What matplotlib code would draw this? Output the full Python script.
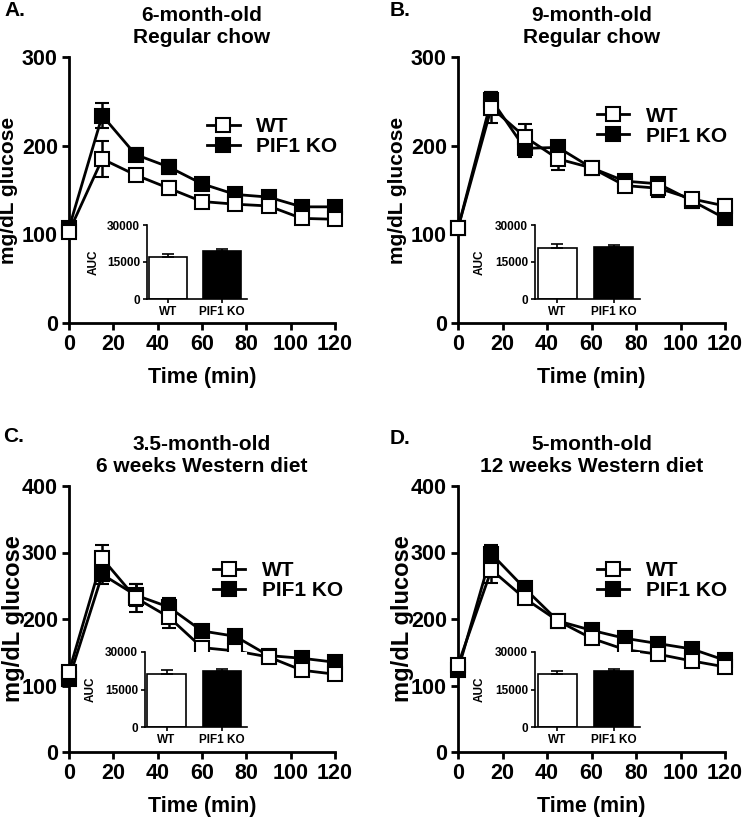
import numpy as np
import matplotlib
matplotlib.use("Agg")
import matplotlib.pyplot as plt
from matplotlib.lines import Line2D
from matplotlib import font_manager

plt.rcParams["font.family"] = ["Liberation Sans", "DejaVu Sans"]
plt.rcParams["font.weight"] = "bold"

# fuente estrecha para los números de los ejes (si existe)
names = {f.name for f in font_manager.fontManager.ttflist}
if "Liberation Sans Narrow" in names:
    tick_font, tick_size = "Liberation Sans Narrow", 17.5
else:
    tick_font, tick_size = "Liberation Sans", 15.5

# tiempos de muestreo (min)
time = [0, 15, 30, 45, 60, 75, 90, 105, 120]

# glucosa (mg/dL) por panel
a_wt = [103, 185, 167, 152, 137, 134, 132, 118, 117]
a_wt_err = [3, 20, 6, 8, 6, 5, 5, 6, 5]
a_ko = [107, 234, 190, 176, 157, 145, 142, 131, 131]
a_ko_err = [5, 14, 7, 8, 6, 4, 4, 4, 4]

b_wt = [107, 243, 210, 185, 175, 155, 152, 140, 132]
b_wt_err = [4, 17, 14, 13, 5, 6, 10, 5, 8]
b_ko = [107, 252, 197, 198, 175, 160, 157, 138, 118]
b_ko_err = [4, 8, 10, 6, 4, 5, 5, 8, 5]

c_wt = [121, 291, 232, 203, 157, 152, 143, 123, 117]
c_wt_err = [6, 20, 21, 16, 8, 10, 6, 6, 5]
c_ko = [110, 267, 236, 218, 182, 174, 145, 141, 135]
c_ko_err = [6, 15, 17, 14, 6, 8, 5, 5, 5]

d_wt = [131, 274, 231, 197, 171, 154, 147, 137, 128]
d_wt_err = [6, 20, 8, 5, 8, 6, 5, 6, 5]
d_ko = [123, 298, 246, 197, 183, 171, 163, 155, 138]
d_ko_err = [6, 13, 6, 5, 5, 5, 5, 5, 5]

# AUC (inset)
auc_groups = ["WT", "PIF1 KO"]
a_auc = [17200, 19600]
a_auc_err = [950, 800]
b_auc = [20850, 21000]
b_auc_err = [1350, 950]
c_auc = [21300, 22300]
c_auc_err = [1350, 1100]
d_auc = [21200, 22300]
d_auc_err = [1350, 1050]

W, H = 743, 818


def box(l, t, r, b):
    # caja en píxeles -> fracción de figura
    return [l / W, 1 - b / H, (r - l) / W, (b - t) / H]


panels = [
    dict(letter="A.", lpos=(4, 11), title="6-month-old\nRegular chow",
         main=(69, 57, 335, 323), inset=(147, 225, 247, 299), ymax=300,
         wt=a_wt, wt_err=a_wt_err, ko=a_ko, ko_err=a_ko_err,
         auc=a_auc, auc_err=a_auc_err, leg=(0.52, 0.70), yfs=15, ylx=-0.19),
    dict(letter="B.", lpos=(390, 11), title="9-month-old\nRegular chow",
         main=(458, 57, 725, 323), inset=(535, 225, 640, 299), ymax=300,
         wt=b_wt, wt_err=b_wt_err, ko=b_ko, ko_err=b_ko_err,
         auc=b_auc, auc_err=b_auc_err, leg=(0.52, 0.74), yfs=15, ylx=-0.19),
    dict(letter="C.", lpos=(3, 436), title="3.5-month-old\n6 weeks Western diet",
         main=(69, 486, 335, 752), inset=(145, 652, 247, 727), ymax=400,
         wt=c_wt, wt_err=c_wt_err, ko=c_ko, ko_err=c_ko_err,
         auc=c_auc, auc_err=c_auc_err, leg=(0.54, 0.643), yfs=17, ylx=-0.165),
    dict(letter="D.", lpos=(390, 439), title="5-month-old\n12 weeks Western diet",
         main=(458, 486, 725, 752), inset=(535, 652, 640, 727), ymax=400,
         wt=d_wt, wt_err=d_wt_err, ko=d_ko, ko_err=d_ko_err,
         auc=d_auc, auc_err=d_auc_err, leg=(0.52, 0.643), yfs=17, ylx=-0.165),
]

fig = plt.figure(figsize=(W / 100, H / 100), dpi=100)

for p in panels:
    ax = fig.add_axes(box(*p["main"]))
    lw = 2.0
    # KO primero, WT encima
    ax.errorbar(time, p["ko"], yerr=p["ko_err"], color="black", lw=lw,
                marker="s", ms=10, mfc="black", mec="black", mew=1.5,
                capsize=5, capthick=1.8, elinewidth=1.8, clip_on=False, zorder=3)
    ax.errorbar(time, p["wt"], yerr=p["wt_err"], color="black", lw=lw,
                marker="s", ms=10, mfc="white", mec="black", mew=1.5,
                capsize=5, capthick=1.8, elinewidth=1.8, clip_on=False, zorder=4)
    ax.set_xlim(0, 120)
    ax.set_ylim(0, p["ymax"])
    ax.set_xticks(range(0, 121, 20))
    ax.set_yticks(range(0, p["ymax"] + 1, 100))
    for s in ["top", "right"]:
        ax.spines[s].set_visible(False)
    for s in ["left", "bottom"]:
        ax.spines[s].set_linewidth(2)
    ax.tick_params(width=2, length=5, pad=3)
    for lbl in ax.get_xticklabels() + ax.get_yticklabels():
        lbl.set_family(tick_font)
        lbl.set_fontsize(tick_size)
        lbl.set_fontweight("bold")
    ax.set_xlabel("Time (min)", fontsize=15.5, fontweight="bold")
    ax.xaxis.set_label_coords(0.5, -0.165)
    ax.set_ylabel("mg/dL glucose", fontsize=p["yfs"], fontweight="bold")
    ax.yaxis.set_label_coords(p["ylx"], 0.5)
    ax.set_title(p["title"], fontsize=15, fontweight="bold", pad=10, linespacing=1.2)

    handles = [
        Line2D([], [], color="black", lw=2, marker="s", ms=10, mfc="white", mec="black", mew=1.5),
        Line2D([], [], color="black", lw=2, marker="s", ms=10, mfc="black", mec="black", mew=1.5),
    ]
    ax.legend(handles, ["WT", "PIF1 KO"], loc="center left", bbox_to_anchor=p["leg"],
              frameon=False, borderpad=0, borderaxespad=0, handlelength=1.55,
              handletextpad=0.8, labelspacing=0.05, prop={"size": 15, "weight": "bold"})

    fig.text(p["lpos"][0] / W, 1 - p["lpos"][1] / H, p["letter"], fontsize=15,
             fontweight="bold", va="center", ha="left")

    # inset AUC
    ins = fig.add_axes(box(*p["inset"]))
    xpos = np.arange(len(auc_groups))
    ins.bar(xpos, p["auc"], width=0.69, color=["white", "black"], edgecolor="black", lw=1.2)
    ins.errorbar(xpos, p["auc"], yerr=[[0, 0], p["auc_err"]], fmt="none", ecolor="black",
                 elinewidth=1.2, capsize=4, capthick=1.2)
    ins.set_xlim(-0.39, 1.46)
    ins.set_ylim(0, 30000)
    ins.set_yticks([0, 15000, 30000])
    ins.set_xticks(xpos)
    ins.set_xticklabels(auc_groups)
    for s in ["top", "right"]:
        ins.spines[s].set_visible(False)
    for s in ["left", "bottom"]:
        ins.spines[s].set_linewidth(1.2)
    ins.tick_params(width=1.2, length=3, pad=2, labelsize=8.5)
    ins.set_ylabel("AUC", fontsize=8.5, fontweight="bold")
    ins.yaxis.set_label_coords(-0.47, 0.5)

fig.savefig("out.png", dpi=100)
